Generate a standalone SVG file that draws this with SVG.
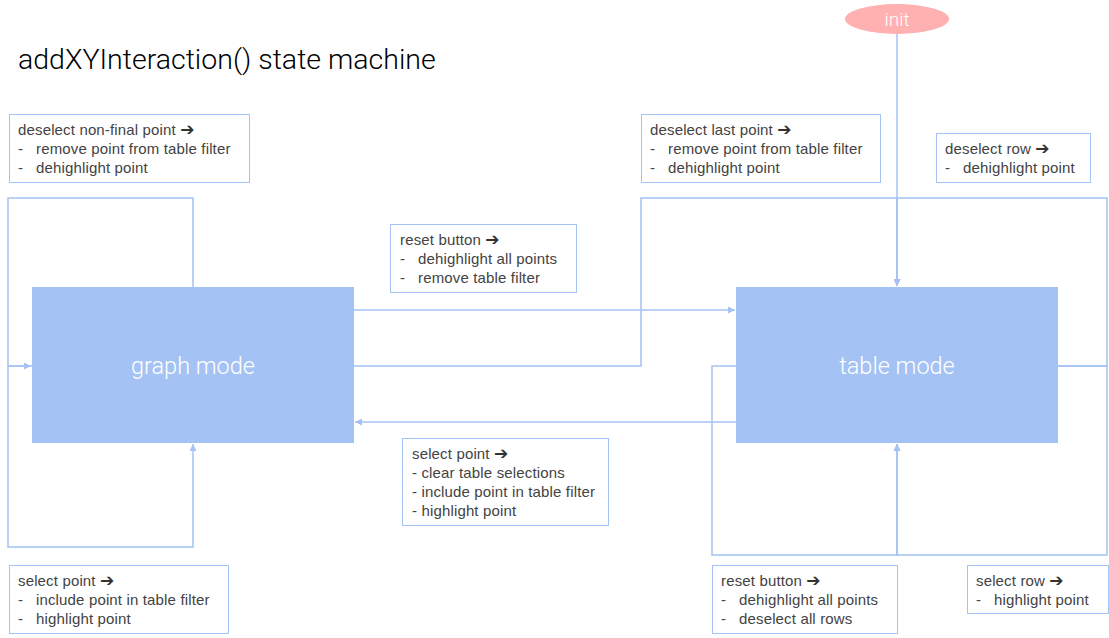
<svg xmlns="http://www.w3.org/2000/svg" width="1109" height="638" viewBox="0 0 1109 638">
<style>
.lbl{fill:#fff;stroke:#a4c2f4;stroke-width:1}
.t{font-family:"Liberation Sans",Arial,sans-serif;font-size:15px;letter-spacing:0.15px;fill:#434343}
.arr{font-family:"DejaVu Sans",sans-serif;font-size:17px;font-weight:bold;fill:#333;letter-spacing:0}
.node{fill:#a4c2f4}
.nt{font-family:Roboto,"Liberation Sans",sans-serif;font-weight:300;font-size:23.5px;fill:#fff;text-anchor:middle}
.c{fill:none;stroke:#a4c2f4;stroke-width:1.5}
</style>
<defs>
<marker id="ah" viewBox="0 0 10 10" refX="10" refY="5" markerWidth="7" markerHeight="7" markerUnits="userSpaceOnUse" orient="auto">
<path d="M0,0 L10,5 L0,10 z" fill="#a4c2f4"/>
</marker>
</defs>
<rect width="1109" height="638" fill="#fff"/>
<text x="18" y="69" font-family="Roboto,'Liberation Sans',sans-serif" font-weight="300" font-size="28.5" fill="#000">addXYInteraction() state machine</text>

<g id="connectors">
<path class="c" d="M897,34 V286" marker-end="url(#ah)"/>
<path class="c" d="M193,287 V198 H8 V366 H31" marker-end="url(#ah)"/>
<path class="c" d="M32,366 H8 V547 H193 V444" marker-end="url(#ah)"/>
<path class="c" d="M354,310 H735" marker-end="url(#ah)"/>
<path class="c" d="M354,366 H641 V198 H897 V286" marker-end="url(#ah)"/>
<path class="c" d="M1058,366 H1107 V198 H897 V286" marker-end="url(#ah)"/>
<path class="c" d="M736,422 H355" marker-end="url(#ah)"/>
<path class="c" d="M736,366 H712 V555 H897 V444" marker-end="url(#ah)"/>
<path class="c" d="M1058,366 H1107 V555 H897 V444" marker-end="url(#ah)"/>
</g>

<g id="init">
<ellipse cx="897" cy="19" rx="52" ry="15" fill="#ffb0b0"/>
<text x="897" y="25.5" font-family="Roboto,'Liberation Sans',sans-serif" font-weight="300" font-size="19" fill="#fff" text-anchor="middle">init</text>
</g>

<g id="graph-mode">
<rect class="node" x="32" y="287" width="322" height="156"/>
<text class="nt" x="193" y="374">graph mode</text>
</g>

<g id="table-mode">
<rect class="node" x="736" y="287" width="322" height="156"/>
<text class="nt" x="897" y="374">table mode</text>
</g>

<g id="lbl-deselect-nonfinal">
<rect class="lbl" x="9.5" y="114.5" width="240" height="68"/>
<text class="t" x="18" y="135">deselect non-final point <tspan class="arr">➔</tspan></text>
<text class="t" x="18" y="154">-</text><text class="t" x="36" y="154">remove point from table filter</text>
<text class="t" x="18" y="173">-</text><text class="t" x="36" y="173">dehighlight point</text>
</g>

<g id="lbl-deselect-last">
<rect class="lbl" x="641.5" y="114.5" width="239" height="68"/>
<text class="t" x="650" y="135">deselect last point <tspan class="arr">➔</tspan></text>
<text class="t" x="650" y="154">-</text><text class="t" x="668" y="154">remove point from table filter</text>
<text class="t" x="650" y="173">-</text><text class="t" x="668" y="173">dehighlight point</text>
</g>

<g id="lbl-deselect-row">
<rect class="lbl" x="936.5" y="133.5" width="154" height="49"/>
<text class="t" x="945" y="154">deselect row <tspan class="arr">➔</tspan></text>
<text class="t" x="945" y="173">-</text><text class="t" x="963" y="173">dehighlight point</text>
</g>

<g id="lbl-reset-top">
<rect class="lbl" x="390.5" y="224.5" width="186" height="68"/>
<text class="t" x="400" y="245">reset button <tspan class="arr">➔</tspan></text>
<text class="t" x="400" y="264">-</text><text class="t" x="418" y="264">dehighlight all points</text>
<text class="t" x="400" y="283">-</text><text class="t" x="418" y="283">remove table filter</text>
</g>

<g id="lbl-select-point-mid">
<rect class="lbl" x="402.5" y="438.5" width="206" height="87"/>
<text class="t" x="412" y="459">select point <tspan class="arr">➔</tspan></text>
<text class="t" x="412" y="478">- clear table selections</text>
<text class="t" x="412" y="497">- include point in table filter</text>
<text class="t" x="412" y="516">- highlight point</text>
</g>

<g id="lbl-select-point-bottom">
<rect class="lbl" x="9.5" y="565.5" width="219" height="68"/>
<text class="t" x="18" y="586">select point <tspan class="arr">➔</tspan></text>
<text class="t" x="18" y="605">-</text><text class="t" x="36" y="605">include point in table filter</text>
<text class="t" x="18" y="624">-</text><text class="t" x="36" y="624">highlight point</text>
</g>

<g id="lbl-reset-bottom">
<rect class="lbl" x="712.5" y="565.5" width="185" height="68"/>
<text class="t" x="721" y="586">reset button <tspan class="arr">➔</tspan></text>
<text class="t" x="721" y="605">-</text><text class="t" x="739" y="605">dehighlight all points</text>
<text class="t" x="721" y="624">-</text><text class="t" x="739" y="624">deselect all rows</text>
</g>

<g id="lbl-select-row">
<rect class="lbl" x="967.5" y="565.5" width="141" height="48"/>
<text class="t" x="976" y="586">select row <tspan class="arr">➔</tspan></text>
<text class="t" x="976" y="605">-</text><text class="t" x="994" y="605">highlight point</text>
</g>
</svg>
